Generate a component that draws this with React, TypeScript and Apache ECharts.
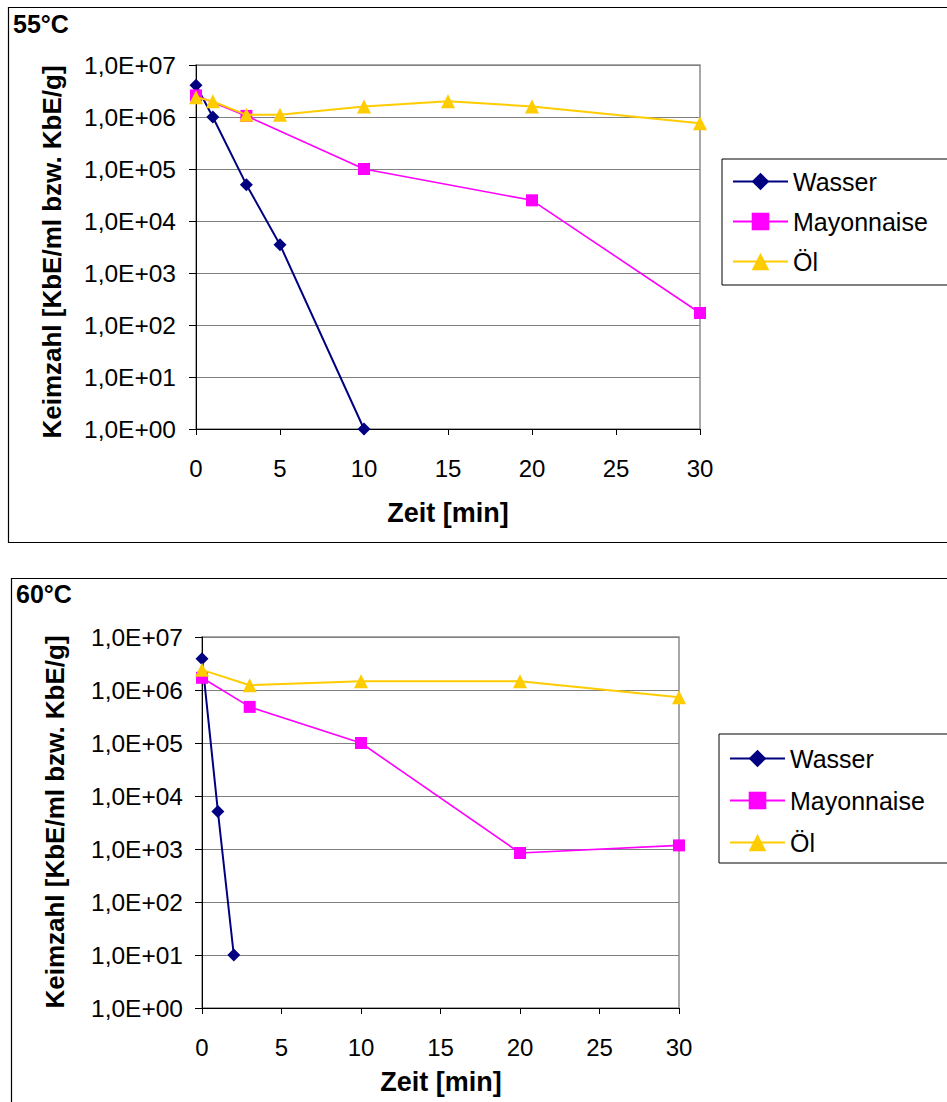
import React, { useEffect, useRef } from "react";
import * as echarts from "echarts";

// Keimzahl over time, 55 °C
const wasser55X = [0, 1, 3, 5, 10];
const wasser55Y = [4.1e6, 1.0e6, 5.0e4, 3.5e3, 1];
const mayo55X = [0, 3, 10, 20, 30];
const mayo55Y = [2.6e6, 1.05e6, 1.0e5, 2.5e4, 1.7e2];
const oel55X = [0, 1, 3, 5, 10, 15, 20, 30];
const oel55Y = [2.4e6, 2.0e6, 1.1e6, 1.1e6, 1.6e6, 2.0e6, 1.6e6, 7.6e5];

// Keimzahl over time, 60 °C
const wasser60X = [0, 1, 2];
const wasser60Y = [3.9e6, 5.1e3, 10];
const mayo60X = [0, 3, 10, 20, 30];
const mayo60Y = [1.7e6, 4.8e5, 1.0e5, 8.4e2, 1.17e3];
const oel60X = [0, 3, 10, 20, 30];
const oel60Y = [2.4e6, 1.23e6, 1.46e6, 1.46e6, 7.3e5];

const seriesNames = ["Wasser", "Mayonnaise", "Öl"];
const panelTitles = ["55°C", "60°C"];
const xTitle = "Zeit [min]";
const yTitle = "Keimzahl [KbE/ml bzw. KbE/g]";
const xMin = 0;
const xMax = 30;
const xStep = 5;
const yMin = 1;
const yMax = 1e7;

const FONT = "'Liberation Sans', Arial, sans-serif";
const colors = ["#000080", "#FF00FF", "#FFCC00"];
const symbols = ["diamond", "rect", "triangle"];
const symbolSizes = [13, 12, 14];

const zip = (xs: number[], ys: number[]) => xs.map((x, i) => [x, ys[i]]);

const expLabel = (v: number) => {
  const e = Math.round(Math.log10(v));
  return "1,0E+" + String(e).padStart(2, "0");
};

export default function App() {
  const ref = useRef<HTMLDivElement>(null);

  useEffect(() => {
    if (!ref.current) return;
    const chart = echarts.init(ref.current, undefined, { renderer: "svg" });

    const grids = [
      { left: 196, top: 65, width: 504, height: 364 },
      { left: 202, top: 637, width: 477, height: 371 },
    ];

    const panels = [
      [zip(wasser55X, wasser55Y), zip(mayo55X, mayo55Y), zip(oel55X, oel55Y)],
      [zip(wasser60X, wasser60Y), zip(mayo60X, mayo60Y), zip(oel60X, oel60Y)],
    ];

    const series: any[] = [];
    panels.forEach((panel, gi) => {
      panel.forEach((data, si) => {
        series.push({
          type: "line",
          name: seriesNames[si],
          xAxisIndex: gi,
          yAxisIndex: gi,
          data,
          symbol: symbols[si],
          symbolSize: symbolSizes[si],
          showAllSymbol: true,
          itemStyle: { color: colors[si] },
          lineStyle: { color: colors[si], width: si === 1 ? 1.6 : 2 },
          z: 3 + si,
        });
      });
    });

    const xAxes = grids.map((_, gi) => ({
      type: "value",
      gridIndex: gi,
      min: xMin,
      max: xMax,
      interval: xStep,
      axisLine: { show: true, onZero: false, lineStyle: { color: "#000", width: 1 } },
      axisTick: { show: true, length: 6, lineStyle: { color: "#000" } },
      splitLine: { show: false },
      axisLabel: { color: "#000", fontSize: 24, fontFamily: FONT, margin: 27 },
    }));

    const yAxes = grids.map((_, gi) => ({
      type: "log",
      logBase: 10,
      gridIndex: gi,
      min: yMin,
      max: yMax,
      interval: 1,
      axisLine: { show: true, onZero: false, lineStyle: { color: "#000", width: 1 } },
      axisTick: { show: true, length: 7, lineStyle: { color: "#000" } },
      splitLine: { show: true, lineStyle: { color: "#808080", width: 1 } },
      axisLabel: {
        color: "#000",
        fontSize: 24.5,
        fontFamily: FONT,
        margin: gi === 0 ? 20 : 19,
        formatter: expLabel,
      },
    }));

    const legendBase = {
      orient: "vertical",
      itemWidth: 55,
      itemHeight: 22,
      textStyle: { color: "#000", fontSize: 25, fontFamily: FONT, lineHeight: 25 },
      borderColor: "#000",
      borderWidth: 1,
      backgroundColor: "#fff",
      data: seriesNames,
    };

    const graphic: any[] = [
      // chart frames
      {
        type: "rect",
        shape: { x: 8.5, y: 7.5, width: 1000, height: 535 },
        style: { fill: "none", stroke: "#000", lineWidth: 1.2 },
        z: 0,
      },
      {
        type: "rect",
        shape: { x: 11.5, y: 578.5, width: 1000, height: 600 },
        style: { fill: "none", stroke: "#000", lineWidth: 1.2 },
        z: 0,
      },
      // panel titles
      {
        type: "text",
        x: 13,
        y: 24,
        style: {
          text: panelTitles[0],
          font: `bold 25px ${FONT}`,
          fill: "#000",
          textVerticalAlign: "middle",
        },
      },
      {
        type: "text",
        x: 16,
        y: 594,
        style: {
          text: panelTitles[1],
          font: `bold 25px ${FONT}`,
          fill: "#000",
          textVerticalAlign: "middle",
        },
      },
      // axis titles
      {
        type: "text",
        x: 52,
        y: 252,
        rotation: Math.PI / 2,
        style: {
          text: yTitle,
          font: `bold 26px ${FONT}`,
          fill: "#000",
          textAlign: "center",
          textVerticalAlign: "middle",
        },
      },
      {
        type: "text",
        x: 55,
        y: 822,
        rotation: Math.PI / 2,
        style: {
          text: yTitle,
          font: `bold 26px ${FONT}`,
          fill: "#000",
          textAlign: "center",
          textVerticalAlign: "middle",
        },
      },
      {
        type: "text",
        x: 448,
        y: 513,
        style: {
          text: xTitle,
          font: `bold 27px ${FONT}`,
          fill: "#000",
          textAlign: "center",
          textVerticalAlign: "middle",
        },
      },
      {
        type: "text",
        x: 441,
        y: 1082,
        style: {
          text: xTitle,
          font: `bold 27px ${FONT}`,
          fill: "#000",
          textAlign: "center",
          textVerticalAlign: "middle",
        },
      },
    ];

    chart.setOption({
      animation: false,
      backgroundColor: "#fff",
      grid: grids.map((g) => ({ ...g, show: true, borderColor: "#8c8c8c", borderWidth: 1.5, backgroundColor: "transparent" })),
      xAxis: xAxes,
      yAxis: yAxes,
      legend: [
        { ...legendBase, left: 722, top: 159, padding: [10, 300, 11, 10], itemGap: 15 },
        { ...legendBase, left: 719, top: 734, padding: [12, 300, 8, 10], itemGap: 17 },
      ],
      graphic,
      series,
    });

    return () => chart.dispose();
  }, []);

  return (
    <div
      ref={ref}
      style={{ position: "absolute", left: 0, top: 0, width: 947, height: 1102 }}
    />
  );
}
